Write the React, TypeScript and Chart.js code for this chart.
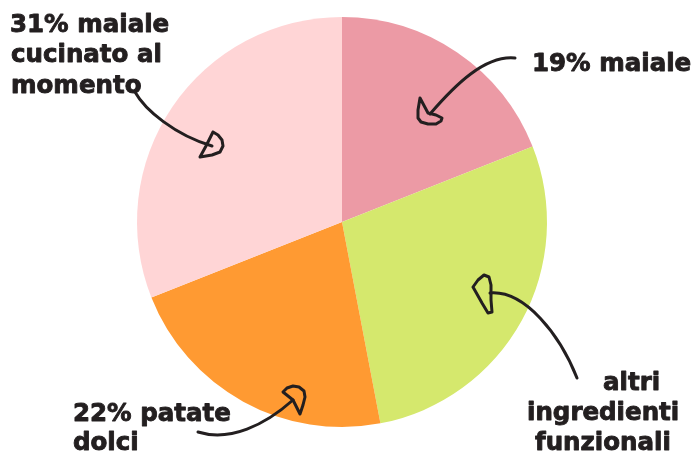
import React, { useEffect, useRef } from "react";
import { Chart, registerables } from "chart.js";

Chart.register(...registerables);

const categories = ["maiale", "altri ingredienti funzionali", "patate dolci", "maiale cucinato al momento"];
const values = [19, 28, 22, 31];
const colors = ["#EC9AA5", "#D5E86D", "#FF9A32", "#FFD5D6"];

type Label = { lines: string[]; pos: [number, number][] };
const labels: Label[] = [
  { lines: ["19% maiale"], pos: [[532, 71]] },
  { lines: ["altri", "ingredienti", "funzionali"], pos: [[603, 390], [527, 420], [535, 450]] },
  { lines: ["22% patate", "dolci"], pos: [[73, 421], [73, 450]] },
  { lines: ["31% maiale", "cucinato al", "momento"], pos: [[10, 32], [11, 62], [11, 93]] },
];

// arrow shafts (bezier) and heads (closed loops)
const shafts: number[][] = [
  [515, 58, 485, 55, 455, 85, 430, 114],
  [577, 378, 560, 335, 525, 290, 490, 293],
  [198, 432, 230, 442, 265, 425, 293, 400],
  [135, 92, 145, 110, 175, 135, 212, 146],
];
const heads: number[][][] = [
  [[420, 98], [418, 110], [418, 118], [421, 122], [428, 124], [436, 124], [441, 121], [442, 118], [436, 115], [428, 113], [420, 98]],
  [[473, 287], [478, 280], [484, 275], [489, 277], [491, 285], [491, 300], [492, 312], [488, 313], [482, 303], [473, 287]],
  [[283, 392], [287, 388], [293, 386], [299, 387], [304, 391], [305, 397], [303, 405], [300, 414], [296, 406], [293, 400], [283, 392]],
  [[213, 132], [218, 135], [222, 140], [223, 146], [220, 152], [212, 155], [200, 157], [206, 146], [213, 132]],
];

const annot = {
  id: "annot",
  afterDraw(chart: any) {
    const ctx = chart.ctx as CanvasRenderingContext2D;
    ctx.save();
    ctx.fillStyle = "#231F20";
    ctx.strokeStyle = "#231F20";
    ctx.font = "bold 24.5px 'DejaVu Sans'";
    ctx.textBaseline = "alphabetic";
    ctx.textAlign = "left";
    ctx.lineWidth = 0.9;
    ctx.lineJoin = "round";
    labels.forEach((l) =>
      l.lines.forEach((t, i) => {
        ctx.fillText(t, l.pos[i][0], l.pos[i][1]);
        ctx.strokeText(t, l.pos[i][0], l.pos[i][1]);
      })
    );
    ctx.lineWidth = 3;
    ctx.lineCap = "round";
    shafts.forEach((s) => {
      ctx.beginPath();
      ctx.moveTo(s[0], s[1]);
      ctx.bezierCurveTo(s[2], s[3], s[4], s[5], s[6], s[7]);
      ctx.stroke();
    });
    heads.forEach((h) => {
      ctx.beginPath();
      ctx.moveTo(h[0][0], h[0][1]);
      for (let i = 1; i < h.length; i++) ctx.lineTo(h[i][0], h[i][1]);
      ctx.stroke();
    });
    ctx.restore();
  },
};

export default function App() {
  const ref = useRef<HTMLCanvasElement>(null);
  useEffect(() => {
    document.body.style.margin = "0";
    const chart = new Chart(ref.current!, {
      type: "pie",
      data: {
        labels: categories,
        datasets: [{ data: values, backgroundColor: colors, borderWidth: 0 }],
      },
      options: {
        animation: false,
        responsive: false,
        layout: { padding: { left: 137, right: 150, top: 17, bottom: 25 } },
        plugins: { legend: { display: false }, tooltip: { enabled: false } },
      },
      plugins: [annot],
    });
    return () => chart.destroy();
  }, []);
  return <canvas ref={ref} width={697} height={452} style={{ display: "block" }} />;
}
